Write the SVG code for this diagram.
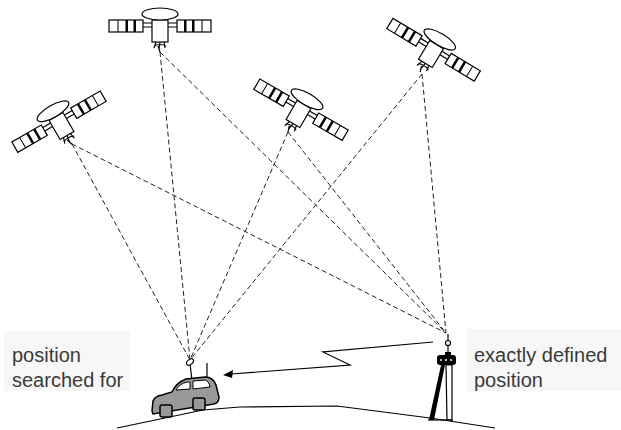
<svg xmlns="http://www.w3.org/2000/svg" xmlns:xlink="http://www.w3.org/1999/xlink" width="621" height="430" viewBox="0 0 621 430">
  <style>
    .ln { fill: none; stroke: #000; stroke-width: 1.2; }
    .wf { fill: #fff; stroke: #000; stroke-width: 1.2; }
    .ray { fill: none; stroke: #222; stroke-width: 1; stroke-dasharray: 5 3; }
    .lbl { font-family: "Liberation Sans", Arial, sans-serif; font-size: 20px; fill: #3a3a3a; }
    .box { fill: #f7f7f7; }
  </style>
  <defs>
    <!-- satellite: body centred at 0,0, dish up, feed horn down -->
    <g id="sat">
      <path class="ln" d="M-17,-8 H-8 M-17,-4 H-8 M8,-8 H17 M8,-4 H17"/>
      <rect class="wf" x="-51" y="-11" width="34" height="12"/>
      <path d="M-42,-11 V1 M-34,-11 V1 M-26,-11 V1" stroke="#000" stroke-width="1"/>
      <path d="M-33,-11 V1 M-25,-11 V1" stroke="#000" stroke-width="2"/>
      <rect class="wf" x="17" y="-11" width="34" height="12"/>
      <path d="M26,-11 V1 M34,-11 V1 M42,-11 V1" stroke="#000" stroke-width="1"/>
      <path d="M25,-11 V1 M33,-11 V1" stroke="#000" stroke-width="2"/>
      <rect class="wf" x="-8" y="-11" width="16" height="22"/>
      <ellipse class="wf" cx="0" cy="-17" rx="18" ry="6"/>
      <path class="ln" d="M-4,11 L-6,17 M0,11 L-1,18 M4,11 L5,17 M-6,15 Q0,12 6,15 M-2,15 L0,21"/>
    </g>
  </defs>

  <!-- label backgrounds -->
  <rect class="box" x="4" y="331" width="126" height="60"/>
  <rect class="box" x="467" y="329" width="154" height="62"/>

  <!-- signal rays from each satellite to both receivers -->
  <g id="connectors">
    <line class="ray" x1="72" y1="144" x2="190" y2="360"/>
    <line class="ray" x1="72" y1="144" x2="446" y2="333"/>
    <line class="ray" x1="160" y1="52" x2="190" y2="360"/>
    <line class="ray" x1="160" y1="52" x2="446" y2="333"/>
    <line class="ray" x1="288" y1="132" x2="190" y2="360"/>
    <line class="ray" x1="288" y1="132" x2="446" y2="333"/>
    <line class="ray" x1="422" y1="74" x2="190" y2="360"/>
    <line class="ray" x1="422" y1="74" x2="446" y2="333"/>
    <!-- correction link from reference station to vehicle -->
    <path class="ln" stroke-width="1.5" d="M433,342 L323,352 L350,365 L231,374"/>
    <path d="M223,375 L233,370 L232,378 Z" fill="#000"/>
  </g>

  <g id="sat-left"><use xlink:href="#sat" transform="translate(61.5,126) rotate(-30)"/></g>
  <g id="sat-top"><use xlink:href="#sat" transform="translate(160,31)"/></g>
  <g id="sat-mid"><use xlink:href="#sat" transform="translate(298.5,114) rotate(30)"/></g>
  <g id="sat-right"><use xlink:href="#sat" transform="translate(431,54) rotate(31)"/></g>

  <!-- ground -->
  <path id="ground" class="ln" stroke-width="1.5" d="M117,428 L165,418 L203,410 L240,407 L337,406 L430,418 L495,428"/>

  <!-- vehicle with rover antenna -->
  <g id="car">
    <line class="ln" x1="207" y1="363" x2="207" y2="390"/>
    <line class="ln" x1="190" y1="363" x2="192" y2="381"/>
    <path d="M152,411 L153,401 Q155,396 162,395 L172,392 Q176,383 186,379 L205,377 Q213,377 216,385 L219,397 Q219,403 214,404 L153,414 Z" fill="#999" stroke="#000" stroke-width="1.5"/>
    <path d="M176,390 Q179,384 187,382 L190,382 L190,389 Z M193,381 L205,380 Q209,381 210,387 L193,389 Z" fill="#fff" stroke="#000" stroke-width="1"/>
    <rect x="160" y="405" width="12" height="12" rx="2" fill="#999" stroke="#000" stroke-width="1.5"/>
    <rect x="193" y="398" width="12" height="12" rx="2" fill="#999" stroke="#000" stroke-width="1.5"/>
    <ellipse cx="190" cy="362" rx="4" ry="2.5" transform="rotate(-40 190 362)" fill="#fff" stroke="#000" stroke-width="1.2"/>
  </g>

  <!-- reference station on tripod -->
  <g id="tripod">
    <line class="ln" x1="448" y1="334" x2="448" y2="356"/>
    <circle cx="448" cy="343" r="2.5" fill="#fff" stroke="#000" stroke-width="1.2"/>
    <rect x="445" y="352" width="6" height="4" fill="#000"/>
    <rect x="437" y="355" width="19" height="10" rx="3" fill="#000"/>
    <circle cx="441" cy="360" r="1" fill="#fff"/>
    <circle cx="446" cy="360" r="1" fill="#fff"/>
    <circle cx="451" cy="360" r="1" fill="#fff"/>
    <path d="M441,365 L445,365 L434,420 L429,420 Z" fill="#000"/>
    <path d="M446,365 L452,365 L452,420 L447,420 Z" fill="#fff" stroke="#000" stroke-width="1.2"/>
    <line class="ln" x1="428" y1="420" x2="453" y2="420"/>
  </g>

  <g id="label-rover">
    <text class="lbl" x="12" y="362">position</text>
    <text class="lbl" x="12" y="387">searched for</text>
  </g>
  <g id="label-reference">
    <text class="lbl" x="474" y="362">exactly defined</text>
    <text class="lbl" x="474" y="387">position</text>
  </g>
</svg>
